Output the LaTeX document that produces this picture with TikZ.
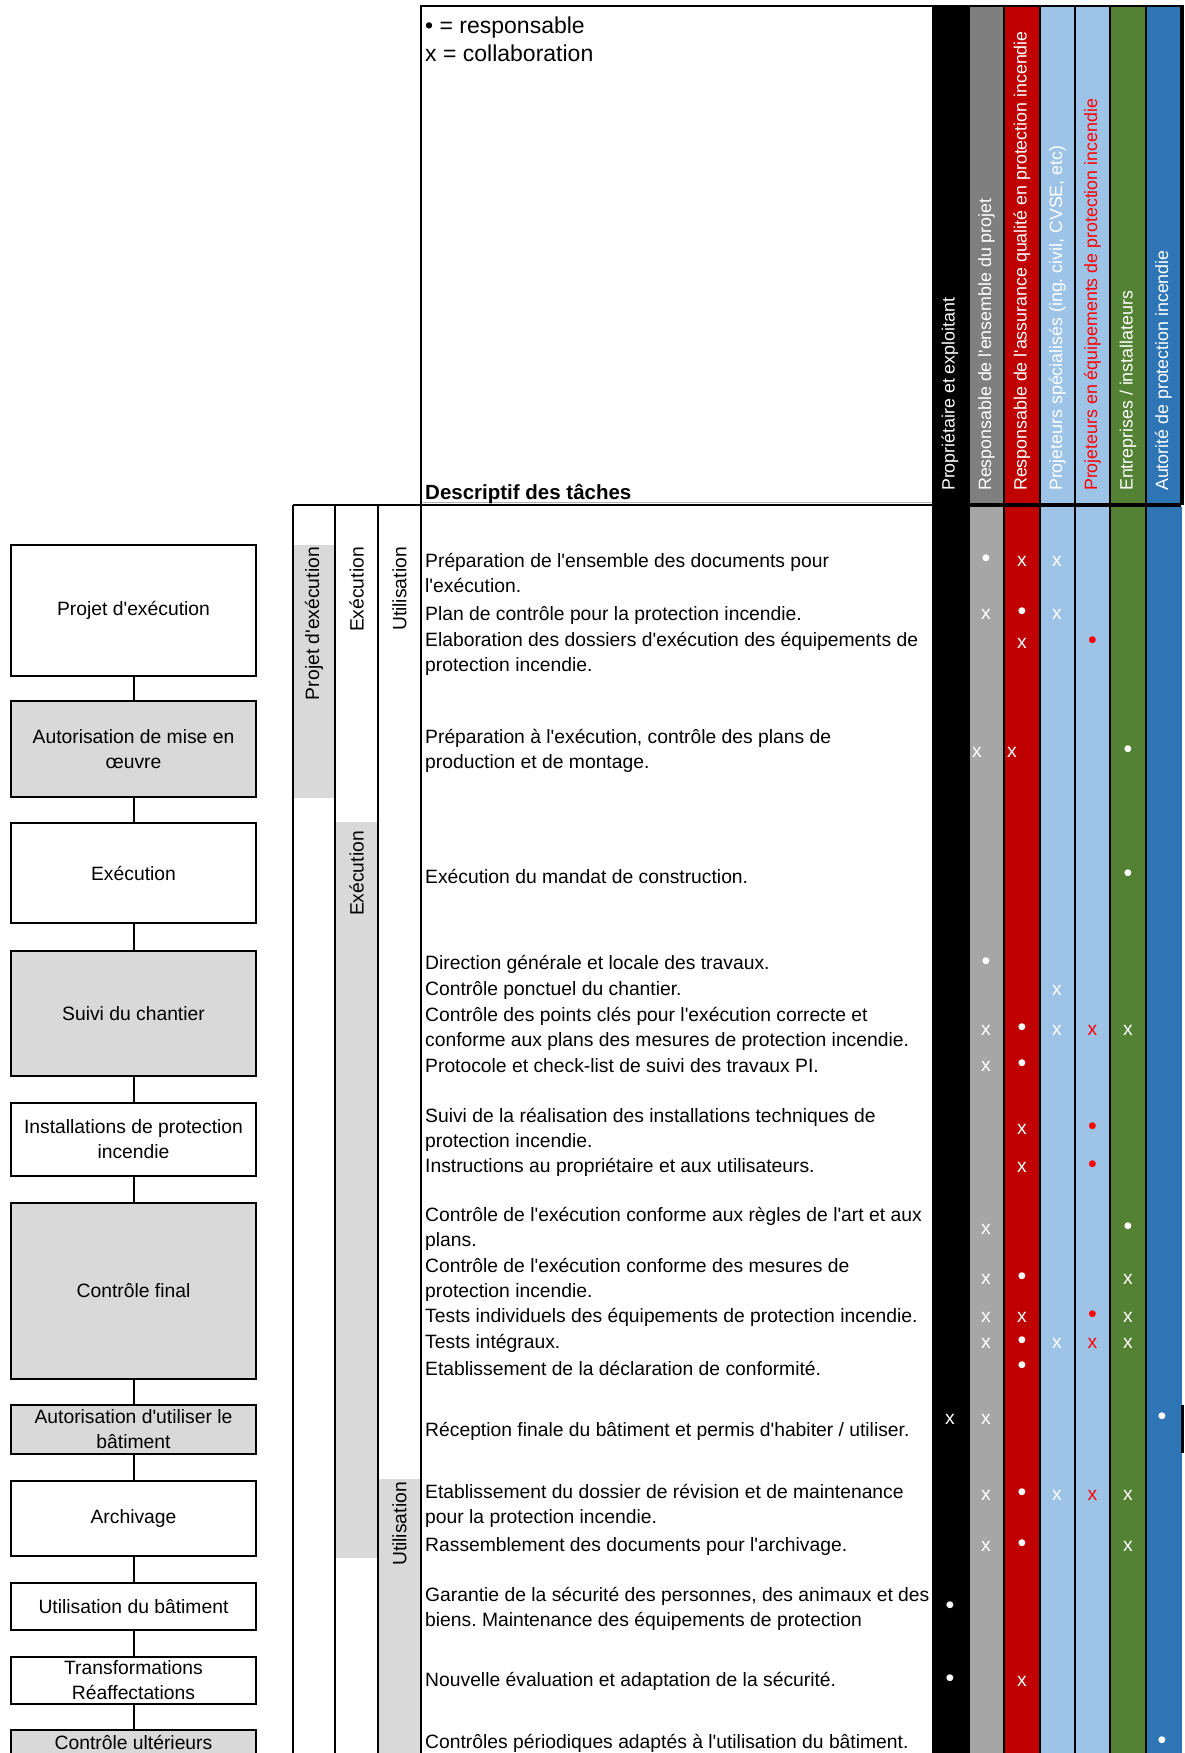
\documentclass[tikz,border=0pt]{standalone}
\usepackage{fontspec}
\setmainfont{Liberation Sans}[Ligatures=TeXOff]
\frenchspacing
\definecolor{PhaseGray}{HTML}{D9D9D9}
\definecolor{ProjGrayDark}{HTML}{7F7F7F}
\definecolor{ProjGray}{HTML}{A6A6A6}
\definecolor{QaRed}{HTML}{C00000}
\definecolor{SpecBlue}{HTML}{9DC3E6}
\definecolor{FireRed}{HTML}{FF0000}
\definecolor{FirmGreen}{HTML}{548235}
\definecolor{AuthBlue}{HTML}{2E75B6}
\newcommand{\bodysize}{\fontsize{19.3}{25}\selectfont}
\newcommand{\headsize}{\fontsize{17.8}{22}\selectfont}
\newcommand{\dotmark}{{\fontsize{25}{25}\selectfont •}}

\begin{document}
\begin{tikzpicture}[x=1pt, y=-1pt,
    stage/.style={draw, line width=2pt, minimum width=245pt, inner sep=1pt,
                  align=center, font=\bodysize},
    gate/.style={stage, fill=PhaseGray},
    phase/.style={rotate=90, anchor=east, inner sep=0pt, font=\bodysize},
    role/.style={rotate=90, anchor=west, inner sep=0pt, text=white, font=\headsize},
    task/.style={anchor=west, inner sep=4pt, align=left, font=\bodysize},
    cellmark/.style={inner sep=0pt, text=white, font=\bodysize},
    link/.style={line width=2pt},
    rule/.style={line width=2pt}]
    \clip (0,0) rectangle (1184,1753);

    % Stages of the project (left column)
    \node[stage, minimum height=131pt] (s1) at (133.5,610.5) {Projet d'exécution};
    \node[gate, minimum height=96pt] (s2) at (133.5,749) {Autorisation de mise en\\œuvre};
    \node[stage, minimum height=100pt] (s3) at (133.5,873) {Exécution};
    \node[gate, minimum height=125pt] (s4) at (133.5,1013.5) {Suivi du chantier};
    \node[stage, minimum height=73pt] (s5) at (133.5,1139.5) {Installations de protection\\incendie};
    \node[gate, minimum height=176pt] (s6) at (133.5,1291) {Contrôle final};
    \node[gate, minimum height=49pt] (s7) at (133.5,1429.5) {Autorisation d'utiliser le\\bâtiment};
    \node[stage, minimum height=75pt] (s8) at (133.5,1518.5) {Archivage};
    \node[stage, minimum height=47pt] (s9) at (133.5,1606.5) {Utilisation du bâtiment};
    \node[stage, minimum height=47pt] (s10) at (133.5,1680.5) {Transformations\\Réaffectations};
    \node[gate, minimum height=49pt] (s11) at (133.5,1754.5) {Contrôle ultérieurs\\\mbox{}};
    \foreach \a/\b in {s1/s2,s2/s3,s3/s4,s4/s5,s5/s6,s6/s7,s7/s8,s8/s9,s9/s10,s10/s11}
        \draw[link] (\a.south) -- (\b.north);

    % Phase bands
    \fill[PhaseGray] (293,545) rectangle (335,798);
    \fill[PhaseGray] (335,822) rectangle (378,1558);
    \fill[PhaseGray] (378,1479) rectangle (421,1753);
    \node[phase] (phA) at (314,547) {Projet d'exécution};
    \node[phase] (phB) at (356.5,547) {Exécution};
    \node[phase] (phC) at (399.5,547) {Utilisation};
    \node[phase] (phB2) at (356.5,831) {Exécution};
    \node[phase] (phC2) at (399.5,1482) {Utilisation};

    % Table lines
    \draw[gray!60, line width=1pt] (421,502) -- (932,502);
    \draw[rule] (293,505) -- (932,505);
    \draw[rule] (420,6) -- (932,6);
    \draw[rule] (421,6) -- (421,1753);
    \foreach \lx in {293,335,378}
        \draw[rule] (\lx,505) -- (\lx,1753);

    % Role columns
    \fill[black] (932,5) rectangle (1184,505);
    \fill[black] (932,505) rectangle (1181,1753);
    \foreach \xa/\xb/\hc/\bc in {970/1003/ProjGrayDark/ProjGray, 1005/1039/QaRed/QaRed,
            1041/1074/SpecBlue/SpecBlue, 1076/1109/SpecBlue/SpecBlue,
            1111/1145/FirmGreen/FirmGreen} {
        \fill[\hc] (\xa,7) rectangle (\xb,503);
        \fill[\bc] (\xa,507) rectangle (\xb,1753);
    }
    \fill[AuthBlue] (1147,7) rectangle (1180,503);
    \fill[AuthBlue] (1147,507) rectangle (1182,1753);
    \fill[black] (1181,1405) rectangle (1184,1453);

    \node[role] (r1) at (950,491) {Propriétaire et exploitant};
    \node[role] (r2) at (986.5,491) {Responsable de l'ensemble du projet};
    \node[role] (r3) at (1022,491) {Responsable de l'assurance qualité en protection incendie};
    \node[role] (r4) at (1057.5,491) {Projeteurs spécialisés (ing. civil, CVSE, etc)};
    \node[role, text=FireRed] (r5) at (1092.5,491) {Projeteurs en équipements de protection incendie};
    \node[role] (r6) at (1128,491) {Entreprises / installateurs};
    \node[role] (r7) at (1163.5,491) {Autorité de protection incendie};

    % Legend and heading
    \node[anchor=base west, inner sep=0pt, font=\fontsize{23}{28}\selectfont] (leg1) at (425,34) {• = responsable};
    \node[anchor=base west, inner sep=0pt, font=\fontsize{23}{28}\selectfont] (leg2) at (425,62) {x = collaboration};
    \node[anchor=base west, inner sep=0pt, font=\fontsize{20.5}{24}\selectfont\bfseries] (desc) at (425,499) {Descriptif des tâches};

    % Tasks
    \node[task] (t1) at (421,572.5) {Préparation de l'ensemble des documents pour\\l'exécution.};
    \node[task] (t2) at (421,615) {Plan de contrôle pour la protection incendie.};
    \node[task] (t3) at (421,654) {Elaboration des dossiers d'exécution des équipements de\\protection incendie.};
    \node[task] (t4) at (421,750.5) {Préparation à l'exécution, contrôle des plans de\\production et de montage.};
    \node[task] (t5) at (421,876) {Exécution du mandat de construction.};
    \node[task] (t6) at (421,964) {Direction générale et locale des travaux.};
    \node[task] (t7) at (421,990) {Contrôle ponctuel du chantier.};
    \node[task] (t8) at (421,1028.5) {Contrôle des points clés pour l'exécution correcte et\\conforme aux plans des mesures de protection incendie.};
    \node[task] (t9) at (421,1066) {Protocole et check-list de suivi des travaux PI.};
    \node[task] (t10) at (421,1129.5) {Suivi de la réalisation des installations techniques de\\protection incendie.};
    \node[task] (t11) at (421,1167) {Instructions au propriétaire et aux utilisateurs.};
    \node[task] (t12) at (421,1229) {Contrôle de l'exécution conforme aux règles de l'art et aux\\plans.};
    \node[task] (t13) at (421,1279.5) {Contrôle de l'exécution conforme des mesures de\\protection incendie.};
    \node[task] (t14) at (421,1317) {Tests individuels des équipements de protection incendie.};
    \node[task] (t15) at (421,1343) {Tests intégraux.};
    \node[task] (t16) at (421,1368) {Etablissement de la déclaration de conformité.};
    \node[task] (t17) at (421,1431) {Réception finale du bâtiment et permis d'habiter / utiliser.};
    \node[task] (t18) at (421,1505.5) {Etablissement du dossier de révision et de maintenance\\pour la protection incendie.};
    \node[task] (t19) at (421,1546) {Rassemblement des documents pour l'archivage.};
    \node[task] (t20) at (421,1608.5) {Garantie de la sécurité des personnes, des animaux et des\\biens. Maintenance des équipements de protection};
    \node[task] (t21) at (421,1681) {Nouvelle évaluation et adaptation de la sécurité.};
    \node[task] (t22) at (421,1743) {Contrôles périodiques adaptés à l'utilisation du bâtiment.};

    % Marks: responsible (dot) and collaboration (x)
    \foreach \cx/\cy/\sym [count=\k] in {
        986/561/\dotmark, 1022/561/x, 1057/561/x,
        986/614/x, 1022/614/\dotmark, 1057/614/x,
        1022/643/x,
        977/752/x, 1012/752/x, 1128/752/\dotmark,
        1128/876/\dotmark,
        986/964/\dotmark,
        1057/990/x,
        986/1030/x, 1022/1030/\dotmark, 1057/1030/x, 1128/1030/x,
        986/1066/x, 1022/1066/\dotmark,
        1022/1129/x,
        1022/1167/x,
        986/1229/x, 1128/1229/\dotmark,
        986/1279/x, 1022/1279/\dotmark, 1128/1279/x,
        986/1317/x, 1022/1317/x, 1128/1317/x,
        986/1343/x, 1022/1343/\dotmark, 1057/1343/x, 1128/1343/x,
        1022/1368/\dotmark,
        950/1419/x, 986/1419/x, 1162/1419/\dotmark,
        986/1495/x, 1022/1495/\dotmark, 1057/1495/x, 1128/1495/x,
        986/1546/x, 1022/1546/\dotmark, 1128/1546/x,
        950/1608/\dotmark,
        950/1681/\dotmark, 1022/1681/x,
        1162/1743/\dotmark}
        \node[cellmark] (w\k) at (\cx,\cy) {\sym};
    \foreach \cy/\sym [count=\k] in {643/\dotmark, 1030/x, 1129/\dotmark, 1167/\dotmark,
            1317/\dotmark, 1343/x, 1495/x}
        \node[cellmark, text=FireRed] (f\k) at (1092.5,\cy) {\sym};
\end{tikzpicture}
\end{document}
